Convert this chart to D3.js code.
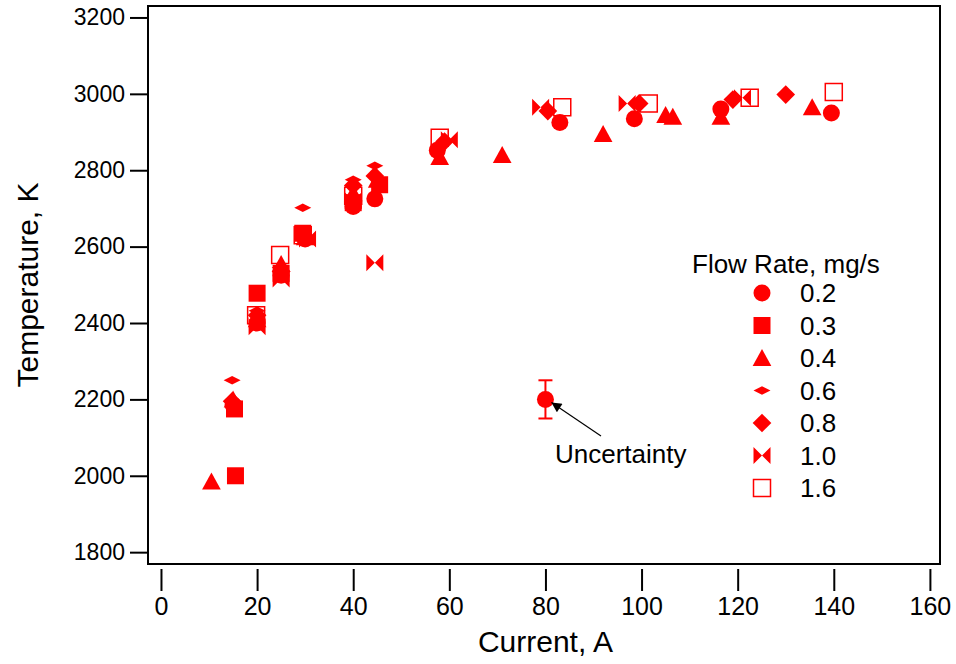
<!DOCTYPE html>
<html>
<head>
<meta charset="utf-8">
<script src="https://cdn.jsdelivr.net/npm/d3@7"></script>
<style>
  body { margin: 0; background: #fff; }
  svg { font-family: "Liberation Sans", Arial, sans-serif; }
</style>
</head>
<body>
<div class="plot-container"></div>
<script>
// Flow rate series, [current A, temperature K]
const flowRates = ["0.2", "0.3", "0.4", "0.6", "0.8", "1.0", "1.6"];
const markerTypes = ["circle", "square", "triangle", "flatDiamond", "diamond", "bowtie", "openSquare"];

const flow02 = [[15, 2185], [20, 2400], [25, 2525], [30, 2620], [40, 2705], [44.5, 2725], [57.5, 2852], [83, 2925], [98.5, 2935], [116.5, 2960], [139.5, 2950]];
const flow03 = [[15.5, 2000], [15.3, 2175], [20, 2478], [25, 2530], [29.5, 2635], [40, 2715], [45.5, 2762]];
const flow04 = [[10.5, 1985], [15, 2200], [20, 2410], [25, 2555], [30, 2625], [40, 2740], [45, 2775], [58, 2835], [71, 2840], [92, 2895], [105, 2945], [106.5, 2940], [116.5, 2940], [135.5, 2965]];
const flow06 = [[14.8, 2250], [20, 2432], [24.8, 2545], [29.5, 2702], [40, 2775], [44.5, 2812]];
const flow08 = [[14.8, 2195], [20, 2420], [25, 2535], [30, 2625], [40, 2760], [44.5, 2785], [59, 2875], [80.5, 2955], [99.5, 2975], [119, 2985], [130, 2998]];
const flow10 = [[20, 2390], [25, 2515], [30.5, 2620], [40, 2720], [44.5, 2558], [60, 2880], [79, 2965], [97, 2975], [121, 2990]];
const flow16 = [[19.8, 2420], [24.8, 2578], [29.5, 2630], [40, 2733], [58, 2885], [83.5, 2965], [101.5, 2975], [122.5, 2990], [140, 3005]];
const seriesData = [flow02, flow03, flow04, flow06, flow08, flow10, flow16];

// uncertainty example point: [current, temperature, +/- K]
const uncertaintyPoint = [80, 2200, 50];

const xTicks = [0, 20, 40, 60, 80, 100, 120, 140, 160];
const yTicks = [1800, 2000, 2200, 2400, 2600, 2800, 3000, 3200];

const RED = "#ff0000";
const width = 956, height = 664;

const svg = d3.select("div.plot-container").append("svg")
  .attr("width", width).attr("height", height);

const x = d3.scaleLinear().domain([-2.7, 162.1]).range([148, 940]);
const y = d3.scaleLinear().domain([1769, 3230]).range([564, 6]);

// marker shapes, s = half size
function markerPath(type, s) {
  switch (type) {
    case "circle":
      return `M${s},0A${s},${s},0,1,1,${-s},0A${s},${s},0,1,1,${s},0Z`;
    case "square":
      return `M${-s},${-s}H${s}V${s}H${-s}Z`;
    case "openSquare":
      return `M${-s},${-s}H${s}V${s}H${-s}Z`;
    case "triangle":
      return `M0,${-s * 1.05}L${s * 1.1},${s * 0.95}L${-s * 1.1},${s * 0.95}Z`;
    case "diamond":
      return `M0,${-s * 1.1}L${s * 1.1},0L0,${s * 1.1}L${-s * 1.1},0Z`;
    case "flatDiamond":
      return `M0,${-s * 0.5}L${s},0L0,${s * 0.5}L${-s},0Z`;
    case "bowtie":
      return `M${-s},${-s}L0,0L${-s},${s}Z M${s},${-s}L0,0L${s},${s}Z`;
  }
}

function drawMarker(g, type, s) {
  const p = g.append("path").attr("d", markerPath(type, s));
  if (type === "openSquare") {
    p.attr("fill", "none").attr("stroke", RED).attr("stroke-width", 1.5);
  } else {
    p.attr("fill", RED);
  }
  return p;
}

// Plot frame
svg.append("rect")
  .attr("x", x.range()[0]).attr("y", y.range()[1])
  .attr("width", x.range()[1] - x.range()[0])
  .attr("height", y.range()[0] - y.range()[1])
  .attr("fill", "none").attr("stroke", "#000").attr("stroke-width", 2);

// Y axis (ticks on the frame)
const yAxis = svg.append("g")
  .attr("transform", `translate(${x.range()[0]},0)`)
  .call(d3.axisLeft(y).tickValues(yTicks).tickSize(18).tickPadding(5).tickFormat(d3.format("d")));
yAxis.select(".domain").remove();
yAxis.selectAll("line").attr("stroke-width", 2);
yAxis.selectAll("text").style("font-size", "23px").attr("fill", "#000");

// X axis (offset below the frame)
const xAxisG = svg.append("g")
  .attr("transform", `translate(0,${y.range()[0] + 5})`)
  .call(d3.axisBottom(x.copy().domain([0, 160]).range([x(0), x(160)])).tickValues(xTicks).tickSize(22).tickPadding(6));
xAxisG.select(".domain").attr("stroke", "none");
xAxisG.selectAll("line").attr("stroke-width", 2);
xAxisG.selectAll("text").style("font-size", "25px").attr("fill", "#000");

// Axis titles
svg.append("text")
  .attr("transform", `translate(38,${(y.range()[0] + y.range()[1]) / 2}) rotate(-90)`)
  .attr("text-anchor", "middle")
  .style("font-size", "30px")
  .text("Temperature, K");

svg.append("text")
  .attr("x", x(80)).attr("y", 652)
  .attr("text-anchor", "middle")
  .style("font-size", "30px")
  .text("Current, A");

// Data markers
seriesData.forEach((data, i) => {
  const g = svg.append("g").attr("class", "series-" + flowRates[i]);
  data.forEach(d => {
    const m = g.append("g").attr("transform", `translate(${x(d[0])},${y(d[1])})`);
    drawMarker(m, markerTypes[i], 8.5);
  });
});

// Uncertainty point with error bar
const [ux, uy, ue] = uncertaintyPoint;
const errG = svg.append("g");
errG.append("line")
  .attr("x1", x(ux)).attr("x2", x(ux))
  .attr("y1", y(uy - ue)).attr("y2", y(uy + ue))
  .attr("stroke", RED).attr("stroke-width", 2);
[uy - ue, uy + ue].forEach(v => {
  errG.append("line")
    .attr("x1", x(ux) - 7).attr("x2", x(ux) + 7)
    .attr("y1", y(v)).attr("y2", y(v))
    .attr("stroke", RED).attr("stroke-width", 2);
});
drawMarker(errG.append("g").attr("transform", `translate(${x(ux)},${y(uy)})`), "circle", 8.5);

// Annotation arrow
svg.append("defs").append("marker")
  .attr("id", "arrowhead")
  .attr("viewBox", "0 0 10 10")
  .attr("refX", 10).attr("refY", 5)
  .attr("markerWidth", 15).attr("markerHeight", 10)
  .attr("markerUnits", "userSpaceOnUse")
  .attr("orient", "auto")
  .append("path").attr("d", "M0,0L10,5L0,10Z").attr("fill", "#000");

svg.append("line")
  .attr("x1", 601).attr("y1", 436)
  .attr("x2", x(ux) + 6).attr("y2", y(uy) + 3)
  .attr("stroke", "#000").attr("stroke-width", 1.2)
  .attr("marker-end", "url(#arrowhead)");

svg.append("text")
  .attr("x", 555).attr("y", 463)
  .style("font-size", "26px")
  .text("Uncertainty");

// Legend
const legend = svg.append("g").attr("transform", "translate(692,0)");
legend.append("text")
  .attr("x", 0).attr("y", 273)
  .style("font-size", "26px")
  .text("Flow Rate, mg/s");

flowRates.forEach((fr, i) => {
  const ly = 293 + i * 32.5;
  const item = legend.append("g").attr("transform", `translate(70,${ly})`);
  drawMarker(item, markerTypes[i], 8.5);
  legend.append("text")
    .attr("x", 108).attr("y", ly + 9)
    .style("font-size", "26px")
    .text(fr);
});
</script>
</body>
</html>
